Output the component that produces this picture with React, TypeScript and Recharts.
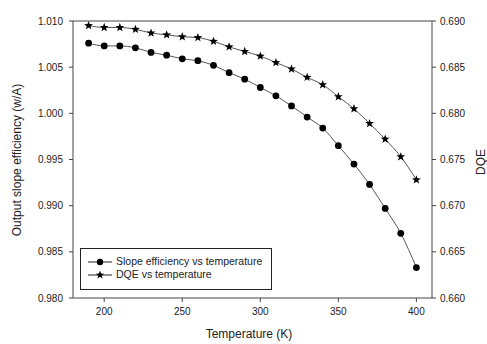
import React from 'react';
import { LineChart, Line, XAxis, YAxis, Legend, ReferenceLine } from 'recharts';

const temperatures = [190, 200, 210, 220, 230, 240, 250, 260, 270, 280, 290, 300, 310, 320, 330, 340, 350, 360, 370, 380, 390, 400];
const slopeEfficiency = [1.0076, 1.0073, 1.0073, 1.0071, 1.0066, 1.0063, 1.0059, 1.0057, 1.0052, 1.0044, 1.0037, 1.0028, 1.0019, 1.0008, 0.9996, 0.9984, 0.9965, 0.9945, 0.9923, 0.9897, 0.987, 0.9833];
const dqe = [0.6895, 0.6893, 0.6893, 0.6891, 0.6887, 0.6885, 0.6883, 0.6882, 0.6878, 0.6872, 0.6867, 0.6862, 0.6855, 0.6848, 0.6839, 0.6831, 0.6818, 0.6805, 0.6789, 0.6772, 0.6753, 0.6728];
const xTicks = [200, 250, 300, 350, 400];
const leftTicks = [0.98, 0.985, 0.99, 0.995, 1.0, 1.005, 1.01];
const rightTicks = [0.66, 0.665, 0.67, 0.675, 0.68, 0.685, 0.69];
const seriesNames = ['Slope efficiency vs temperature', 'DQE vs temperature'];

const data = temperatures.map((t, i) => ({ t, slope: slopeEfficiency[i], dqe: dqe[i] }));

const FONT = '"Liberation Sans", Arial, sans-serif';
const AXIS = '#444';
const LINE = '#555';

function starPoints(cx: number, cy: number, r: number) {
  const pts: string[] = [];
  for (let k = 0; k < 10; k++) {
    const rad = k % 2 === 0 ? r : r * 0.42;
    const a = -Math.PI / 2 + (k * Math.PI) / 5;
    pts.push(`${cx + rad * Math.cos(a)},${cy + rad * Math.sin(a)}`);
  }
  return pts.join(' ');
}

const CircleDot = (props: any) => {
  const { cx, cy } = props;
  if (cx == null || cy == null) return null;
  return <circle key={`c${cx}`} cx={cx} cy={cy} r={3.4} fill="#000" />;
};

const StarDot = (props: any) => {
  const { cx, cy } = props;
  if (cx == null || cy == null) return null;
  return <polygon key={`s${cx}`} points={starPoints(cx, cy, 4.6)} fill="#000" />;
};

// own prop names so the axis' cloneElement does not overwrite them
const AxisTitle = ({ px, py, rot, text }: { px: number; py: number; rot: number; text: string }) => (
  <text
    x={px}
    y={py}
    textAnchor="middle"
    dominantBaseline="central"
    transform={rot ? `rotate(${rot} ${px} ${py})` : undefined}
    fontFamily={FONT}
    fontSize={12}
    fill="#222"
  >
    {text}
  </text>
);

const LegendBox = () => (
  <div
    style={{
      border: '1px solid #222',
      background: '#fff',
      width: 192,
      height: 42,
      boxSizing: 'border-box',
      padding: '6px 0 0 7px',
      fontFamily: FONT,
      fontSize: 10.5,
      color: '#222',
      lineHeight: '13px',
      whiteSpace: 'nowrap',
      textAlign: 'left',
    }}
  >
    {seriesNames.map((name, i) => (
      <div key={name} style={{ display: 'flex', alignItems: 'center' }}>
        <svg width={24} height={12} style={{ marginRight: 4 }}>
          <line x1={0} y1={6} x2={24} y2={6} stroke="#222" strokeWidth={1} />
          {i === 0 ? <circle cx={12} cy={6} r={3.2} fill="#000" /> : <polygon points={starPoints(12, 6, 4.4)} fill="#000" />}
        </svg>
        <span>{name}</span>
      </div>
    ))}
  </div>
);

export default function App() {
  return (
    <div>
      <style>{'body{margin:0;background:#fff}'}</style>
      <LineChart width={487} height={344} data={data} margin={{ top: 21, right: 0, bottom: 0, left: 0 }}>
        <XAxis
          dataKey="t"
          type="number"
          domain={[180, 410]}
          ticks={xTicks}
          height={46}
          stroke={AXIS}
          tickSize={4}
          tickMargin={6}
          tick={{ fill: '#222', fontSize: 10, fontFamily: FONT }}
          label={<AxisTitle px={249} py={334} rot={0} text="Temperature (K)" />}
        />
        <YAxis
          yAxisId="left"
          orientation="left"
          domain={[0.98, 1.01]}
          ticks={leftTicks}
          tickFormatter={(v: number) => v.toFixed(3)}
          width={73}
          stroke={AXIS}
          tickSize={4}
          tickMargin={6}
          tick={{ fill: '#222', fontSize: 10, fontFamily: FONT }}
          label={<AxisTitle px={17} py={160} rot={-90} text="Output slope efficiency (w/A)" />}
        />
        <YAxis
          yAxisId="right"
          orientation="right"
          domain={[0.66, 0.69]}
          ticks={rightTicks}
          tickFormatter={(v: number) => v.toFixed(3)}
          width={55}
          stroke={AXIS}
          tickSize={4}
          tickMargin={4}
          tick={{ fill: '#222', fontSize: 10, fontFamily: FONT }}
          label={<AxisTitle px={481} py={162} rot={-90} text="DQE" />}
        />
        <ReferenceLine yAxisId="left" y={1.01} stroke={AXIS} />
        <Legend
          layout="horizontal"
          align="center"
          verticalAlign="middle"
          content={<LegendBox />}
          wrapperStyle={{ left: 80, top: 248, width: 192, height: 42 }}
        />
        <Line
          yAxisId="left"
          dataKey="slope"
          name={seriesNames[0]}
          type="monotone"
          stroke={LINE}
          strokeWidth={1}
          dot={<CircleDot />}
          activeDot={false}
          isAnimationActive={false}
        />
        <Line
          yAxisId="right"
          dataKey="dqe"
          name={seriesNames[1]}
          type="monotone"
          stroke={LINE}
          strokeWidth={1}
          dot={<StarDot />}
          activeDot={false}
          isAnimationActive={false}
        />
      </LineChart>
    </div>
  );
}
